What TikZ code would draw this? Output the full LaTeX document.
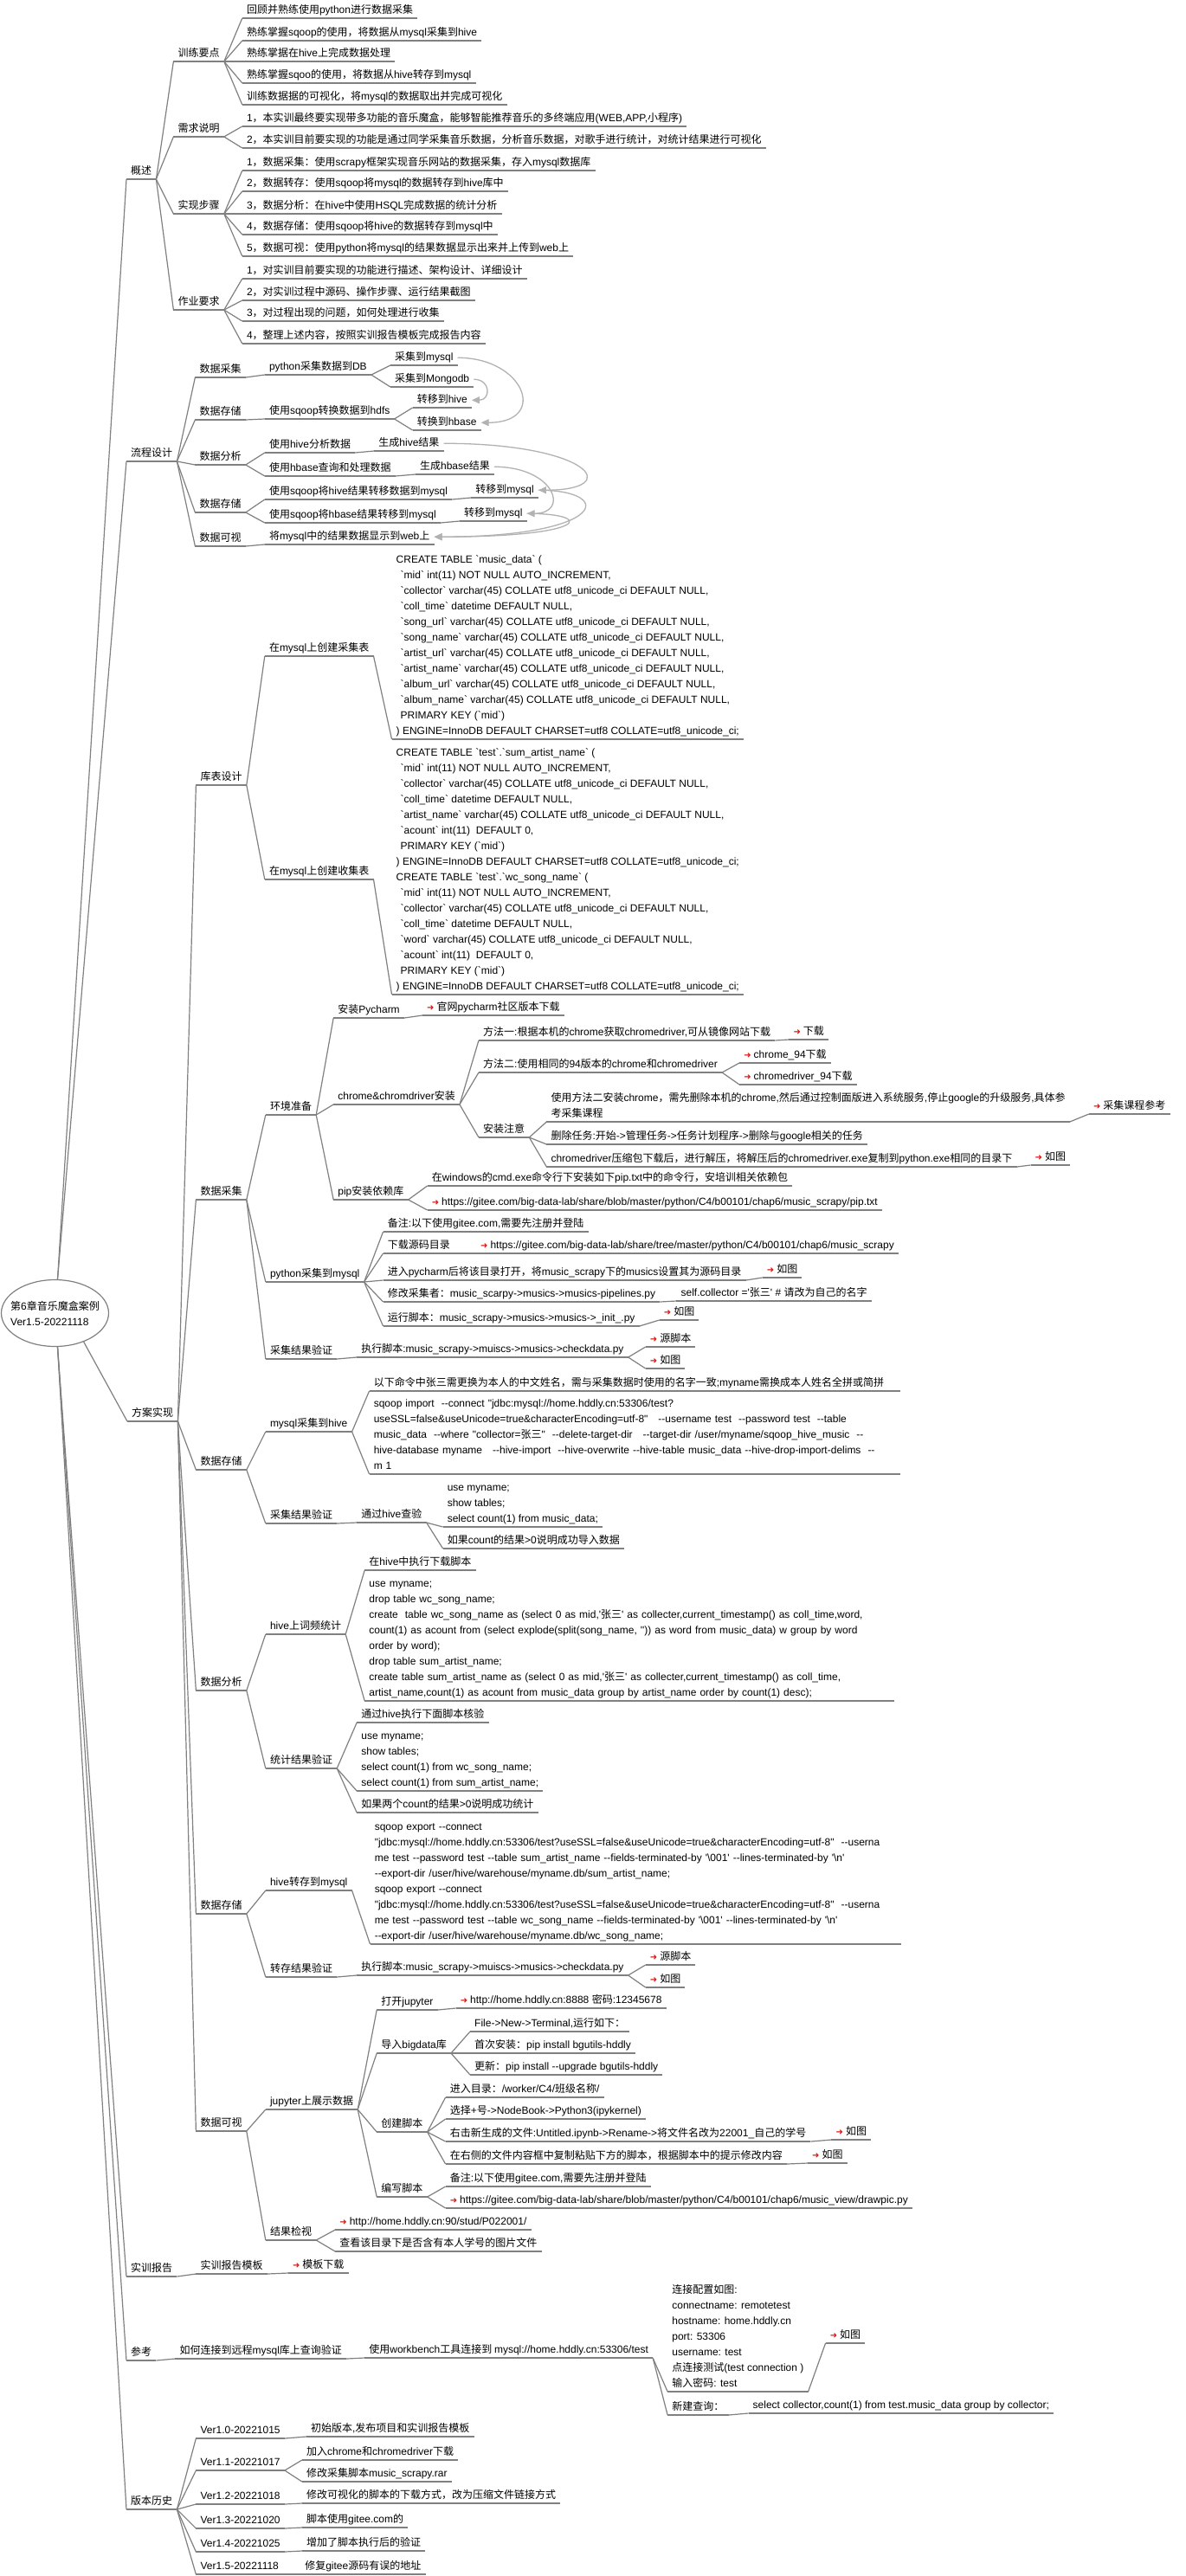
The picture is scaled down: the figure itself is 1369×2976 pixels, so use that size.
\documentclass[tikz,border=0pt]{standalone}
\usepackage{fontspec}
\setmainfont{Liberation Sans}[Ligatures=TeXOff]
\newfontfamily\latfont{Liberation Sans}[Ligatures=TeXOff]
\newfontfamily\cjkfont{Noto Sans CJK SC}
\newfontfamily\arwfont{DejaVu Sans}
\usetikzlibrary{calc,shapes.geometric,arrows.meta}
% automatic font switching between Latin and CJK
\XeTeXinterchartokenstate=1
\chardef\cjkcls=10
\chardef\arwcls=11
\newcount\mycnt
\mycnt="2E80
\loop
  \XeTeXcharclass\mycnt=\cjkcls
  \advance\mycnt by 1
\ifnum\mycnt<"A000 \repeat
\mycnt="FF00
\loop
  \XeTeXcharclass\mycnt=\cjkcls
  \advance\mycnt by 1
\ifnum\mycnt<"FFF0 \repeat
\XeTeXcharclass"279C=\arwcls
\XeTeXinterchartoks 0 \cjkcls={\cjkfont}
\XeTeXinterchartoks 4095 \cjkcls={\cjkfont}
\XeTeXinterchartoks \arwcls \cjkcls={\cjkfont}
\XeTeXinterchartoks \cjkcls 0={\latfont}
\XeTeXinterchartoks 4095 0={\latfont}
\XeTeXinterchartoks \arwcls 0={\latfont}
\definecolor{lg}{RGB}{128,128,128}
\definecolor{cg}{RGB}{178,178,178}
\definecolor{arrred}{RGB}{215,25,20}
\newcommand\fs{\fontsize{12pt}{18pt}\selectfont}
\newcommand\arw{{\arwfont\color{arrred}\fontsize{10pt}{10pt}\selectfont ➜}\hspace{3pt}}
\newcommand\sqlind{\hspace*{5pt}}
\tikzset{
  mm/.style={anchor=south west, inner xsep=5pt, inner ysep=2pt, align=left, font=\fs,
    execute at end node={\rule[-3pt]{0pt}{3pt}}},
  ul/.style={draw=lg, line width=1.2pt},
  conn/.style={draw=lg, line width=1.2pt},
  flow/.style={draw=cg, line width=1.3pt, -{Triangle[length=9pt,width=8pt]}},
}
\newcommand\kid[6][]{%
  \path let \p1=(#3.south east) in (\x1+#4pt,-#5pt) coordinate (#2-at);
  \node[mm,#1] (#2) at (#2-at) {#6};
  \draw[ul] (#2.south west) -- (#2.south east);
  \draw[conn] (#3.south east) -- (#2.south west);
}
\newcommand\topn[4]{%
  \node[mm] (#1) at (#2,-#3) {#4};
  \draw[ul] (#1.south west) -- (#1.south east);
}
\begin{document}
\begin{tikzpicture}[x=1pt,y=1pt]
\fill[white] (0,0) rectangle (1369,-2976);
\useasboundingbox (0,0) rectangle (1369,-2976);

% root
\node[ellipse, draw=lg, line width=1.2pt, fill=white, minimum width=124pt, minimum height=77pt, inner sep=0pt] (root) at (63.5,-1517) {};
\node[font=\fs, align=left, inner sep=0pt] (roottext) at (root.center) {第6章音乐魔盒案例\\Ver1.5-20221118};

% ===== 概述 =====
\topn{gs}{146}{207}{概述}
\kid{gs1}{gs}{20}{71}{训练要点}
\kid{gs11}{gs1}{21}{21}{回顾并熟练使用python进行数据采集}
\kid{gs12}{gs1}{21}{47}{熟练掌握sqoop的使用，将数据从mysql采集到hive}
\kid{gs13}{gs1}{21}{71}{熟练掌据在hive上完成数据处理}
\kid{gs14}{gs1}{21}{96}{熟练掌握sqoo的使用，将数据从hive转存到mysql}
\kid{gs15}{gs1}{21}{121}{训练数据据的可视化，将mysql的数据取出并完成可视化}
\kid{gs2}{gs}{20}{158}{需求说明}
\kid{gs21}{gs2}{21}{146}{1，本实训最终要实现带多功能的音乐魔盒，能够智能推荐音乐的多终端应用(WEB,APP,小程序)}
\kid{gs22}{gs2}{21}{171}{2，本实训目前要实现的功能是通过同学采集音乐数据，分析音乐数据，对歌手进行统计，对统计结果进行可视化}
\kid{gs3}{gs}{20}{247}{实现步骤}
\kid{gs31}{gs3}{21}{197}{1，数据采集：使用scrapy框架实现音乐网站的数据采集，存入mysql数据库}
\kid{gs32}{gs3}{21}{221}{2，数据转存：使用sqoop将mysql的数据转存到hive库中}
\kid{gs33}{gs3}{21}{247}{3，数据分析：在hive中使用HSQL完成数据的统计分析}
\kid{gs34}{gs3}{21}{271}{4，数据存储：使用sqoop将hive的数据转存到mysql中}
\kid{gs35}{gs3}{21}{296}{5，数据可视：使用python将mysql的结果数据显示出来并上传到web上}
\kid{gs4}{gs}{20}{358}{作业要求}
\kid{gs41}{gs4}{21}{322}{1，对实训目前要实现的功能进行描述、架构设计、详细设计}
\kid{gs42}{gs4}{21}{347}{2，对实训过程中源码、操作步骤、运行结果截图}
\kid{gs43}{gs4}{21}{371}{3，对过程出现的问题，如何处理进行收集}
\kid{gs44}{gs4}{21}{397}{4，整理上述内容，按照实训报告模板完成报告内容}

% ===== 流程设计 =====
\topn{lc}{146}{533}{流程设计}
\kid{lc1}{lc}{21}{436}{数据采集}
\kid{lc1a}{lc1}{22}{433}{python采集数据到DB}
\kid{m1}{lc1a}{22}{422}{采集到mysql}
\kid{m2}{lc1a}{22}{447}{采集到Mongodb}
\kid{lc2}{lc}{21}{485}{数据存储}
\kid{lc2a}{lc2}{22}{484}{使用sqoop转换数据到hdfs}
\kid{h1}{lc2a}{21}{471}{转移到hive}
\kid{h2}{lc2a}{21}{497}{转换到hbase}
\kid{lc3}{lc}{21}{537}{数据分析}
\kid{lc3a}{lc3}{22}{523}{使用hive分析数据}
\kid{r1}{lc3a}{22}{521}{生成hive结果}
\kid{lc3b}{lc3}{22}{550}{使用hbase查询和处理数据}
\kid{r2}{lc3b}{23}{548}{生成hbase结果}
\kid{lc4}{lc}{21}{592}{数据存储}
\kid{lc4a}{lc4}{22}{577}{使用sqoop将hive结果转移数据到mysql}
\kid{t1}{lc4a}{22}{575}{转移到mysql}
\kid{lc4b}{lc4}{22}{604}{使用sqoop将hbase结果转移到mysql}
\kid{t2}{lc4b}{22}{602}{转移到mysql}
\kid{lc5}{lc}{21}{631}{数据可视}
\kid{web}{lc5}{22}{629}{将mysql中的结果数据显示到web上}
\draw[flow] (m1.east) .. controls +(78,0) and +(78,0) .. (h2.east);
\draw[flow] (m2.east) .. controls +(20,0) and +(22,0) .. (h1.east);
\draw[flow] (r1.east) .. controls +(170,0) and +(100,0) .. (t1.east);
\draw[flow] (r2.east) .. controls +(70,0) and +(50,0) .. (t2.east);
\draw[flow] (t1.east) .. controls +(90,0) and +(200,0) .. (web.east);
\draw[flow] (t2.east) .. controls +(80,0) and +(180,0) .. (web.east);

% ===== 方案实现 =====
\topn{fa}{147}{1642}{方案实现}
\kid{fa1}{fa}{21}{907}{库表设计}
\kid{fa1a}{fa1}{21}{758}{在mysql上创建采集表}
\kid{sql1}{fa1a}{21}{854}{CREATE TABLE `music\_data` (\\
\sqlind`mid` int(11) NOT NULL AUTO\_INCREMENT,\\
\sqlind`collector` varchar(45) COLLATE utf8\_unicode\_ci DEFAULT NULL,\\
\sqlind`coll\_time` datetime DEFAULT NULL,\\
\sqlind`song\_url` varchar(45) COLLATE utf8\_unicode\_ci DEFAULT NULL,\\
\sqlind`song\_name` varchar(45) COLLATE utf8\_unicode\_ci DEFAULT NULL,\\
\sqlind`artist\_url` varchar(45) COLLATE utf8\_unicode\_ci DEFAULT NULL,\\
\sqlind`artist\_name` varchar(45) COLLATE utf8\_unicode\_ci DEFAULT NULL,\\
\sqlind`album\_url` varchar(45) COLLATE utf8\_unicode\_ci DEFAULT NULL,\\
\sqlind`album\_name` varchar(45) COLLATE utf8\_unicode\_ci DEFAULT NULL,\\
\sqlind PRIMARY KEY (`mid`)\\
) ENGINE=InnoDB DEFAULT CHARSET=utf8 COLLATE=utf8\_unicode\_ci;}
\kid{fa1b}{fa1}{21}{1016}{在mysql上创建收集表}
\kid{sql2}{fa1b}{21}{1149}{CREATE TABLE `test`.`sum\_artist\_name` (\\
\sqlind`mid` int(11) NOT NULL AUTO\_INCREMENT,\\
\sqlind`collector` varchar(45) COLLATE utf8\_unicode\_ci DEFAULT NULL,\\
\sqlind`coll\_time` datetime DEFAULT NULL,\\
\sqlind`artist\_name` varchar(45) COLLATE utf8\_unicode\_ci DEFAULT NULL,\\
\sqlind`acount` int(11)\ \ DEFAULT 0,\\
\sqlind PRIMARY KEY (`mid`)\\
) ENGINE=InnoDB DEFAULT CHARSET=utf8 COLLATE=utf8\_unicode\_ci;\\
CREATE TABLE `test`.`wc\_song\_name` (\\
\sqlind`mid` int(11) NOT NULL AUTO\_INCREMENT,\\
\sqlind`collector` varchar(45) COLLATE utf8\_unicode\_ci DEFAULT NULL,\\
\sqlind`coll\_time` datetime DEFAULT NULL,\\
\sqlind`word` varchar(45) COLLATE utf8\_unicode\_ci DEFAULT NULL,\\
\sqlind`acount` int(11)\ \ DEFAULT 0,\\
\sqlind PRIMARY KEY (`mid`)\\
) ENGINE=InnoDB DEFAULT CHARSET=utf8 COLLATE=utf8\_unicode\_ci;}

\kid{fa2}{fa}{21}{1386}{数据采集}
\kid{env}{fa2}{22}{1288}{环境准备}
\kid{pyc}{env}{20}{1176}{安装Pycharm}
\kid{pyc1}{pyc}{21}{1173}{\arw 官网pycharm社区版本下载}
\kid{chr}{env}{20}{1276}{chrome\&chromdriver安装}
\kid{chr1}{chr}{22}{1202}{方法一:根据本机的chrome获取chromedriver,可从镜像网站下载}
\kid{chr1a}{chr1}{16}{1201}{\arw 下载}
\kid{chr2}{chr}{22}{1239}{方法二:使用相同的94版本的chrome和chromedriver}
\kid{chr2a}{chr2}{20}{1228}{\arw chrome\_94下载}
\kid{chr2b}{chr2}{20}{1253}{\arw chromedriver\_94下载}
\kid{chr3}{chr}{22}{1314}{安装注意}
\kid{chr3a}{chr3}{20}{1296}{使用方法二安装chrome，需先删除本机的chrome,然后通过控制面版进入系统服务,停止google的升级服务,具体参\\考采集课程}
\kid{chr3a1}{chr3a}{22}{1287}{\arw 采集课程参考}
\kid{chr3b}{chr3}{20}{1322}{删除任务:开始->管理任务->任务计划程序->删除与google相关的任务}
\kid{chr3c}{chr3}{20}{1348}{chromedriver压缩包下载后，进行解压，将解压后的chromedriver.exe复制到python.exe相同的目录下}
\kid{chr3c1}{chr3c}{16}{1346}{\arw 如图}
\kid{pip}{env}{20}{1386}{pip安装依赖库}
\kid{pip1}{pip}{22}{1370}{在windows的cmd.exe命令行下安装如下pip.txt中的命令行，安培训相关依赖包}
\kid{pip2}{pip}{22}{1398}{\arw https://gitee.com/big-data-lab/share/blob/master/python/C4/b00101/chap6/music\_scrapy/pip.txt}
\kid{pym}{fa2}{22}{1481}{python采集到mysql}
\kid{pym1}{pym}{22}{1423}{备注:以下使用gitee.com,需要先注册并登陆}
\kid{pym2}{pym}{22}{1448}{下载源码目录}
\kid{pym2a}{pym2}{25}{1448}{\arw https://gitee.com/big-data-lab/share/tree/master/python/C4/b00101/chap6/music\_scrapy}
\kid{pym3}{pym}{22}{1479}{进入pycharm后将该目录打开，将music\_scrapy下的musics设置其为源码目录}
\kid{pym3a}{pym3}{19}{1476}{\arw 如图}
\kid{pym4}{pym}{22}{1504}{修改采集者：music\_scarpy->musics->musics-pipelines.py}
\kid{pym4a}{pym4}{19}{1503}{self.collector ='张三' \# 请改为自己的名字}
\kid{pym5}{pym}{22}{1532}{运行脚本：music\_scrapy->musics->musics->\_init\_.py}
\kid{pym5a}{pym5}{23}{1525}{\arw 如图}
\kid{cjv}{fa2}{22}{1570}{采集结果验证}
\kid{cjv1}{cjv}{23}{1568}{执行脚本:music\_scrapy->muiscs->musics->checkdata.py}
\kid{cjv1a}{cjv1}{20}{1556}{\arw 源脚本}
\kid{cjv1b}{cjv1}{20}{1581}{\arw 如图}

\kid{fa3}{fa}{21}{1698}{数据存储}
\kid{mh}{fa3}{22}{1654}{mysql采集到hive}
\kid[text width=603pt]{mh1}{mh}{20}{1607}{以下命令中张三需更换为本人的中文姓名，需与采集数据时使用的名字一致;myname需换成本人姓名全拼或简拼}
\kid[text width=603pt]{mh2}{mh}{20}{1703}{\mbox{sqoop import\ \ --connect "jdbc:mysql://home.hddly.cn:53306/test?}\\
\mbox{useSSL=false\&useUnicode=true\&characterEncoding=utf-8"\ \ \ --username test\ \ --password test\ \ --table}\\
\mbox{music\_data\ \ --where "collector=张三"\ \ --delete-target-dir\ \ \ --target-dir /user/myname/sqoop\_hive\_music\ \ --}\\
\mbox{hive-database myname\ \ \ --hive-import\ \ --hive-overwrite --hive-table music\_data --hive-drop-import-delims\ \ --}\\
m 1}
\kid{cv2}{fa3}{22}{1760}{采集结果验证}
\kid{cv2a}{cv2}{23}{1759}{通过hive查验}
\kid{cv2a1}{cv2a}{19}{1764}{use myname;\\show tables;\\select count(1) from music\_data;}
\kid{cv2a2}{cv2a}{19}{1789}{如果count的结果>0说明成功导入数据}

\kid{fa4}{fa}{21}{1953}{数据分析}
\kid{hw}{fa4}{22}{1888}{hive上词频统计}
\kid{hw1}{hw}{22}{1814}{在hive中执行下载脚本}
\kid[text width=601pt]{hw2}{hw}{22}{1965}{use myname;\\
drop table wc\_song\_name;\\
\mbox{create\ \ table wc\_song\_name as (select 0 as mid,'张三' as collecter,current\_timestamp() as coll\_time,word,}\\
\mbox{count(1) as acount from (select explode(split(song\_name, '')) as word from music\_data) w group by word}\\
order by word);\\
drop table sum\_artist\_name;\\
\mbox{create table sum\_artist\_name as (select 0 as mid,'张三' as collecter,current\_timestamp() as coll\_time,}\\
\mbox{artist\_name,count(1) as acount from music\_data group by artist\_name order by count(1) desc);}}
\kid{tv}{fa4}{22}{2043}{统计结果验证}
\kid{tv1}{tv}{23}{1990}{通过hive执行下面脚本核验}
\kid{tv2}{tv}{23}{2069}{use myname;\\show tables;\\select count(1) from wc\_song\_name;\\select count(1) from sum\_artist\_name;}
\kid{tv3}{tv}{23}{2094}{如果两个count的结果>0说明成功统计}

\kid{fa5}{fa}{21}{2211}{数据存储}
\kid{hm}{fa5}{22}{2184}{hive转存到mysql}
\kid[text width=603pt]{hm1}{hm}{21}{2246}{sqoop export --connect\\
\mbox{"jdbc:mysql://home.hddly.cn:53306/test?useSSL=false\&useUnicode=true\&characterEncoding=utf-8"\ \ --userna}\\
\mbox{me test --password test --table sum\_artist\_name --fields-terminated-by '\textbackslash 001' --lines-terminated-by '\textbackslash n'}\\
--export-dir /user/hive/warehouse/myname.db/sum\_artist\_name;\\
sqoop export --connect\\
\mbox{"jdbc:mysql://home.hddly.cn:53306/test?useSSL=false\&useUnicode=true\&characterEncoding=utf-8"\ \ --userna}\\
\mbox{me test --password test --table wc\_song\_name --fields-terminated-by '\textbackslash 001' --lines-terminated-by '\textbackslash n'}\\
--export-dir /user/hive/warehouse/myname.db/wc\_song\_name;}
\kid{zv}{fa5}{22}{2284}{转存结果验证}
\kid{zv1}{zv}{23}{2282}{执行脚本:music\_scrapy->muiscs->musics->checkdata.py}
\kid{zv1a}{zv1}{20}{2270}{\arw 源脚本}
\kid{zv1b}{zv1}{20}{2296}{\arw 如图}

\kid{fa6}{fa}{21}{2462}{数据可视}
\kid{jp}{fa6}{22}{2437}{jupyter上展示数据}
\kid{jp1}{jp}{22}{2322}{打开jupyter}
\kid{jp1a}{jp1}{21}{2320}{\arw http://home.hddly.cn:8888 密码:12345678}
\kid{jp2}{jp}{22}{2372}{导入bigdata库}
\kid{jp2a}{jp2}{22}{2347}{File->New->Terminal,运行如下：}
\kid{jp2b}{jp2}{22}{2372}{首次安装：pip install bgutils-hddly}
\kid{jp2c}{jp2}{22}{2397}{更新：pip install --upgrade bgutils-hddly}
\kid{jp3}{jp}{22}{2463}{创建脚本}
\kid{jp3a}{jp3}{21}{2423}{进入目录：/worker/C4/班级名称/}
\kid{jp3b}{jp3}{21}{2448}{选择+号->NodeBook->Python3(ipykernel)}
\kid{jp3c}{jp3}{21}{2474}{右击新生成的文件:Untitled.ipynb->Rename->将文件名改为22001\_自己的学号}
\kid{jp3c1}{jp3c}{24}{2472}{\arw 如图}
\kid{jp3d}{jp3}{21}{2500}{在右侧的文件内容框中复制粘贴下方的脚本，根据脚本中的提示修改内容}
\kid{jp3d1}{jp3d}{24}{2499}{\arw 如图}
\kid{jp4}{jp}{22}{2538}{编写脚本}
\kid{jp4a}{jp4}{21}{2526}{备注:以下使用gitee.com,需要先注册并登陆}
\kid{jp4b}{jp4}{21}{2551}{\arw https://gitee.com/big-data-lab/share/blob/master/python/C4/b00101/chap6/music\_view/drawpic.py}
\kid{rv}{fa6}{22}{2588}{结果检视}
\kid{rv1}{rv}{22}{2576}{\arw http://home.hddly.cn:90/stud/P022001/}
\kid{rv2}{rv}{22}{2601}{查看该目录下是否含有本人学号的图片文件}

% ===== 实训报告 =====
\topn{sx}{146}{2630}{实训报告}
\kid{sx1}{sx}{22}{2627}{实训报告模板}
\kid{sx1a}{sx1}{24}{2626}{\arw 模板下载}

% ===== 参考 =====
\topn{ck}{146}{2727}{参考}
\kid{ck1}{ck}{22}{2725}{如何连接到远程mysql库上查询验证}
\kid{ck1a}{ck1}{21}{2724}{使用workbench工具连接到 mysql://home.hddly.cn:53306/test}
\kid{ck2}{ck1a}{17}{2763}{连接配置如图:\\connectname: remotetest\\hostname: home.hddly.cn\\port: 53306\\username: test\\点连接测试(test connection )\\输入密码: test}
\kid{ck2a}{ck2}{20}{2707}{\arw 如图}
\kid{ck3}{ck1a}{17}{2790}{新建查询：}
\kid{ck3a}{ck3}{23}{2788}{select collector,count(1) from test.music\_data group by collector;}

% ===== 版本历史 =====
\topn{bb}{146}{2899}{版本历史}
\kid{v0}{bb}{22}{2817}{Ver1.0-20221015}
\kid{v0a}{v0}{25}{2815}{初始版本,发布项目和实训报告模板}
\kid{v1}{bb}{22}{2854}{Ver1.1-20221017}
\kid{v1a}{v1}{20}{2842}{加入chrome和chromedriver下载}
\kid{v1b}{v1}{20}{2867}{修改采集脚本music\_scrapy.rar}
\kid{v2}{bb}{22}{2893}{Ver1.2-20221018}
\kid{v2a}{v2}{20}{2892}{修改可视化的脚本的下载方式，改为压缩文件链接方式}
\kid{v3}{bb}{22}{2921}{Ver1.3-20221020}
\kid{v3a}{v3}{20}{2920}{脚本使用gitee.com的}
\kid{v4}{bb}{22}{2948}{Ver1.4-20221025}
\kid{v4a}{v4}{20}{2947}{增加了脚本执行后的验证}
\kid{v5}{bb}{22}{2974}{Ver1.5-20221118}
\kid{v5a}{v5}{20}{2974}{修复gitee源码有误的地址}

% root connectors
\draw[conn] ([xshift=3pt]root.north) -- (gs.south west);
\draw[conn] ([xshift=3pt]root.north) -- (lc.south west);
\draw[conn] (root.-45) -- (fa.south west);
\draw[conn] ([xshift=3pt]root.south) -- (sx.south west);
\draw[conn] ([xshift=3pt]root.south) -- (ck.south west);
\draw[conn] ([xshift=3pt]root.south) -- (bb.south west);
\end{tikzpicture}
\end{document}
